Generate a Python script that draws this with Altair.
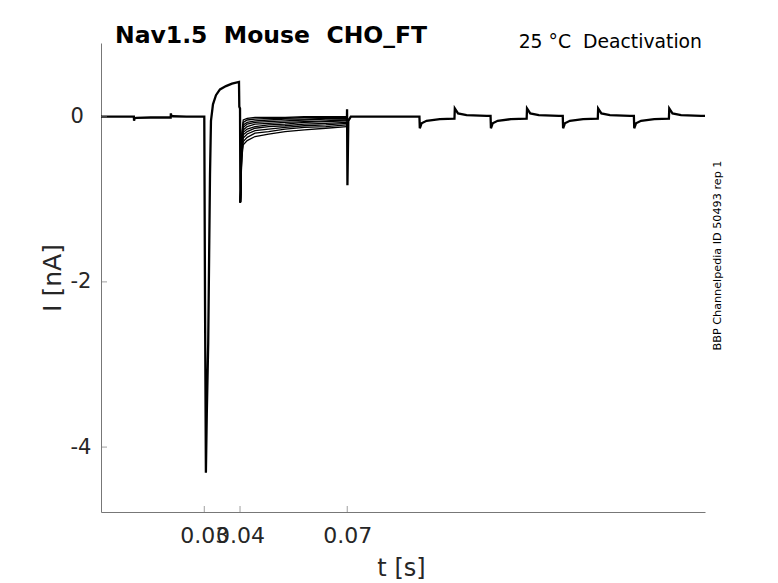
import altair as alt
import pandas as pd

# ---------------- data ----------------
# shared part of every sweep (holding, small steps, activating pulse)
PRE_T = [0.0011, 0.0103, 0.01035, 0.0105, 0.0110, 0.0150, 0.0206, 0.02065, 0.0208, 0.0212,
         0.0250, 0.0300, 0.0302, 0.03045, 0.0307, 0.0311, 0.0314, 0.0316, 0.03187, 0.03243,
         0.03327, 0.03439, 0.03607, 0.03775, 0.03971, 0.03980, 0.0400, 0.0401]
PRE_I = [0.0, 0.0, -0.05, -0.02, -0.015, -0.01, -0.01, 0.04, 0.01, 0.005,
         0.0, 0.0, -2.2, -4.31, -3.6, -2.74, -1.5, -0.7, -0.05, 0.15,
         0.26, 0.33, 0.37, 0.40, 0.42, 0.12, 0.10, -1.04]

# tail currents during the deactivation steps (one list per sweep)
TAIL_T = [0.0401, 0.0405, 0.0409, 0.0420, 0.0442, 0.0480, 0.0526, 0.0580, 0.0640, 0.0699]
TAIL_0 = [-1.04, -0.20, -0.04, -0.02, -0.01, -0.01, -0.01, -0.00, -0.00, -0.00]
TAIL_1 = [-1.04, -0.24, -0.07, -0.04, -0.03, -0.02, -0.02, -0.01, -0.01, -0.01]
TAIL_2 = [-1.04, -0.27, -0.10, -0.07, -0.05, -0.04, -0.03, -0.03, -0.02, -0.02]
TAIL_3 = [-1.04, -0.30, -0.13, -0.09, -0.07, -0.06, -0.05, -0.04, -0.03, -0.03]
TAIL_4 = [-1.04, -0.33, -0.16, -0.12, -0.09, -0.08, -0.07, -0.06, -0.05, -0.04]
TAIL_5 = [-1.04, -0.36, -0.19, -0.15, -0.12, -0.10, -0.09, -0.07, -0.06, -0.05]
TAIL_6 = [-1.04, -0.39, -0.22, -0.18, -0.14, -0.12, -0.11, -0.09, -0.08, -0.07]
TAIL_7 = [-1.04, -0.42, -0.26, -0.21, -0.17, -0.15, -0.13, -0.11, -0.10, -0.08]
TAIL_8 = [-1.04, -0.46, -0.30, -0.25, -0.20, -0.18, -0.15, -0.13, -0.12, -0.10]
TAIL_9 = [-1.04, -0.50, -0.34, -0.29, -0.24, -0.21, -0.18, -0.16, -0.14, -0.12]
TAILS = [TAIL_0, TAIL_1, TAIL_2, TAIL_3, TAIL_4, TAIL_5, TAIL_6, TAIL_7, TAIL_8, TAIL_9]

# shared part after the return step (artefacts of the test pulses)
POST_T = [0.0699, 0.06995, 0.07005, 0.0703, 0.0710, 0.0902,
          0.0903, 0.0908, 0.0922, 0.0959, 0.1000,
          0.1001, 0.1010, 0.1034, 0.1090, 0.1101,
          0.1102, 0.1107, 0.1121, 0.1158, 0.1202,
          0.1203, 0.1212, 0.1236, 0.1292, 0.1303,
          0.1304, 0.1309, 0.1323, 0.1360, 0.1401,
          0.1402, 0.1411, 0.1435, 0.1491, 0.1502,
          0.1503, 0.1508, 0.1522, 0.1559, 0.1600,
          0.1601, 0.1610, 0.1634, 0.1690, 0.1701]
POST_I = [-0.06, 0.09, -0.83, -0.05, 0.0, 0.0,
          -0.14, -0.08, -0.05, -0.03, -0.025,
          0.10, 0.04, 0.02, 0.01, 0.01,
          -0.14, -0.08, -0.05, -0.03, -0.025,
          0.10, 0.04, 0.02, 0.01, 0.01,
          -0.14, -0.08, -0.05, -0.03, -0.025,
          0.10, 0.04, 0.02, 0.01, 0.01,
          -0.14, -0.08, -0.05, -0.03, -0.025,
          0.10, 0.04, 0.02, 0.01, 0.01]

X_TICKS = [0.03, 0.04, 0.07]
Y_TICKS = [0, -2, -4]
X_DOMAIN = [0.0011, 0.1701]
Y_DOMAIN = [-4.786, 0.892]

TITLE = "Nav1.5 \u00a0Mouse \u00a0CHO_FT"
INFO = "25 \u00b0C \u00a0Deactivation"
SIDE = "BBP Channelpedia ID 50493 rep 1"
X_TITLE = "t [s]"
Y_TITLE = "I [nA]"

# ---------------- tables ----------------
shared = pd.DataFrame({
    "t": PRE_T + POST_T,
    "I": PRE_I + POST_I,
    "sweep": ["pre"] * len(PRE_T) + ["post"] * len(POST_T),
})
tail_rows = []
for k, vals in enumerate(TAILS):
    for t, v in zip(TAIL_T, vals):
        tail_rows.append({"t": t, "I": v, "sweep": f"tail{k}"})
tails = pd.DataFrame(tail_rows)

W, H = 604, 469
FONT = "DejaVu Sans"
AX = "#777777"
TXT = "#262626"

xs = alt.Scale(domain=X_DOMAIN, nice=False, zero=False)
ys = alt.Scale(domain=Y_DOMAIN, nice=False, zero=False)

x_axis = alt.Axis(values=X_TICKS, format=".2f", grid=False, tickSize=0, labelPadding=13,
                  labelFontSize=22, labelColor=TXT, labelFont=FONT, labelOverlap=False,
                  labelFlush=False, domainColor=AX, domainWidth=1,
                  title=X_TITLE, titleFont=FONT, titleFontSize=24, titleFontWeight="normal",
                  titleColor=TXT, titleX=300, titleY=63, titleAlign="center",
                  titleBaseline="alphabetic")
y_axis = alt.Axis(values=Y_TICKS, format="d", grid=False, tickSize=0, labelPadding=31,
                  labelAlign="left", labelBaseline="middle",
                  labelExpr="replace(datum.label, '\u2212', '-')",
                  labelFontSize=21, labelColor=TXT, labelFont=FONT, labelOverlap=False,
                  labelFlush=False, domainColor=AX, domainWidth=1,
                  title=Y_TITLE, titleFont=FONT, titleFontSize=25, titleFontWeight="normal",
                  titleColor=TXT, titleX=-41, titleY=234.5, titleAngle=270,
                  titleAlign="center", titleBaseline="alphabetic")

shared_line = alt.Chart(shared).mark_line(color="black", strokeWidth=2.3, clip=True).encode(
    x=alt.X("t:Q", scale=xs, axis=x_axis),
    y=alt.Y("I:Q", scale=ys, axis=y_axis),
    detail="sweep:N",
    order="t:Q",
)
tail_line = alt.Chart(tails).mark_line(color="black", strokeWidth=1.3, clip=True).encode(
    x=alt.X("t:Q", scale=xs),
    y=alt.Y("I:Q", scale=ys),
    detail="sweep:N",
    order="t:Q",
)

xt = alt.Chart(pd.DataFrame({"v": X_TICKS})).mark_tick(
    orient="vertical", color=AX, thickness=1, size=6).encode(
    x=alt.X("v:Q", scale=xs), y=alt.value(H - 3))
yt = alt.Chart(pd.DataFrame({"v": Y_TICKS})).mark_tick(
    orient="horizontal", color=AX, thickness=1, size=6).encode(
    y=alt.Y("v:Q", scale=ys), x=alt.value(3))

title_txt = alt.Chart(pd.DataFrame({"s": [TITLE]})).mark_text(
    font=FONT, fontSize=23.5, fontWeight="bold", color="black",
    align="left", baseline="alphabetic").encode(
    text="s:N", x=alt.value(14), y=alt.value(0))
info_txt = alt.Chart(pd.DataFrame({"s": [INFO]})).mark_text(
    font=FONT, fontSize=18.8, color="black",
    align="right", baseline="alphabetic").encode(
    text="s:N", x=alt.value(601), y=alt.value(4.5))
side_txt = alt.Chart(pd.DataFrame({"s": [SIDE]})).mark_text(
    font=FONT, fontSize=11.2, color="black", angle=270,
    align="center", baseline="alphabetic").encode(
    text="s:N", x=alt.value(619.5), y=alt.value(212.5))

chart = alt.layer(shared_line, tail_line, xt, yt, title_txt, info_txt, side_txt).properties(
    width=W, height=H,
    autosize=alt.AutoSizeParams(type="none"),
    padding={"left": 93, "top": 35, "right": 60, "bottom": 75},
    background="white",
).configure_view(stroke=None)

chart.save("out.html", embed_options={"renderer": "svg", "actions": False})
